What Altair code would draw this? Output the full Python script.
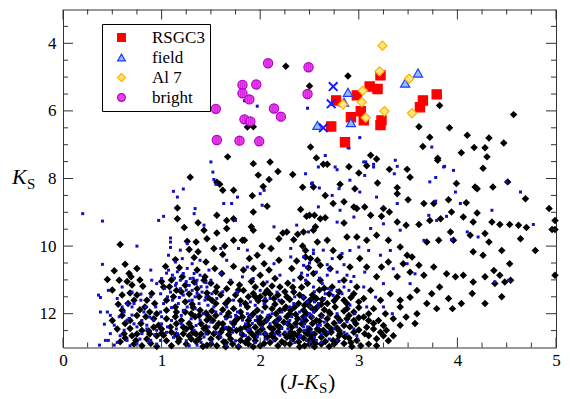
import altair as alt
import pandas as pd

# ---------------- data ----------------
BLACK_STARS = [
    [2.26,4.68],[2.50,5.26],[2.89,4.97],[1.87,6.48],[1.93,6.47],[2.51,7.07],[2.57,7.39],[1.67,7.36],
    [3.61,6.47],[3.72,6.78],[3.65,7.05],[3.80,7.40],[3.12,7.31],[3.18,7.42],[3.82,5.84],[4.57,6.11],
    [3.92,6.50],[4.10,6.72],[4.32,6.80],[4.04,7.24],[4.17,7.08],[4.28,7.09],[4.47,6.95],[4.30,7.36],
    [3.80,7.46],[3.08,7.62],[2.90,7.65],[3.31,7.73],[3.49,7.73],[4.26,7.70],[2.64,7.58],[2.68,7.58],
    [1.93,7.56],[2.10,7.51],[2.18,7.79],[1.98,7.90],[2.09,8.03],[2.33,7.88],[2.43,8.26],[2.03,8.24],
    [1.92,8.51],[1.73,8.35],[1.62,8.35],[1.56,8.11],[1.59,8.17],[1.29,7.96],[2.66,8.50],[3.52,7.96],
    [3.00,7.84],[3.19,8.13],[3.39,8.27],[2.81,8.17],[2.96,8.30],[4.18,8.25],[4.20,8.30],[4.36,8.25],
    [4.51,8.10],[4.69,8.60],[3.99,8.15],[3.91,8.63],[4.09,8.72],[3.76,8.74],[3.66,8.74],[3.50,8.63],
    [3.39,8.45],[3.25,8.89],[3.31,8.99],[3.12,9.09],[3.06,8.84],[2.95,8.84],[2.98,8.89],[2.85,8.69],
    [2.54,8.25],[2.74,8.74],[2.61,9.19],[2.66,9.16],[2.50,9.09],[2.85,9.32],[3.23,9.12],[3.39,9.29],
    [3.48,9.38],[3.61,9.36],[3.72,9.24],[3.83,9.19],[3.94,8.99],[4.06,9.14],[4.16,9.29],[4.20,9.02],
    [4.35,9.29],[4.43,9.36],[4.53,9.36],[4.62,9.38],[4.70,9.45],[4.64,9.78],[4.93,8.89],[4.99,9.24],
    [4.96,9.51],[4.99,9.51],[4.79,10.13],[4.99,10.86],
    [1.16,8.87],[1.16,9.19],[1.37,9.31],[1.56,9.09],[1.66,9.24],[1.73,9.19],[2.41,8.92],[2.47,9.12],
    [2.55,9.09],[2.07,8.82],[1.93,8.99],[0.58,9.95],[1.23,9.45],[1.43,9.53],[1.46,9.78],[1.35,9.88],
    [1.26,9.86],[1.56,9.61],[1.66,9.48],[1.73,9.83],[1.82,9.83],[1.84,9.83],[1.91,9.43],[1.93,9.53],
    [2.02,10.00],[2.11,10.07],[2.19,9.78],[2.23,9.61],[2.27,9.58],[2.34,9.81],[2.38,9.65],[2.43,10.00],
    [2.54,9.53],[2.58,9.88],[1.97,10.27],[1.64,10.00],[1.53,10.07],[1.62,10.25],
    [0.63,10.54],[0.52,10.73],[0.67,10.81],[0.75,10.66],[0.69,10.91],[0.57,11.01],[0.45,10.99],
    [1.28,10.10],[1.37,10.17],[1.33,10.34],[1.14,10.40],[1.04,10.60],[1.18,10.64],[1.45,10.47],
    [1.54,10.66],[1.36,10.71],[1.44,10.91],[1.61,10.81],[1.73,10.60],[1.83,10.71],[1.89,10.37],
    [1.93,10.66],[2.04,10.52],[2.09,10.71],[2.19,10.42],[2.32,10.66],[2.37,10.44],[2.46,10.32],
    [2.49,10.64],[2.54,10.81],[2.58,10.42],[2.41,10.93],[2.15,10.96],[2.00,10.86],[1.21,10.91],
    [0.81,11.19],[0.60,11.45],[0.68,11.39],[0.72,11.60],[0.56,11.72],[0.60,11.90],[0.83,11.80],
    [0.93,11.70],[1.02,11.21],[1.12,11.50],[1.15,11.31],[1.24,11.16],[1.33,11.06],[1.36,11.26],
    [1.38,11.50],[1.43,11.01],[1.46,11.39],[1.51,11.60],[1.56,11.21],[1.60,11.45],[1.66,11.26],
    [1.68,11.60],[1.73,11.85],[1.83,11.31],[1.88,11.50],[1.95,11.21],[2.00,11.50],[2.07,11.31],
    [2.14,11.55],[2.20,11.21],[2.27,11.50],[2.34,11.36],[2.39,11.70],[2.48,11.11],[2.53,11.45],
    [2.58,11.80],[1.14,11.80],[1.24,11.95],[1.31,11.72],[1.39,11.90],[1.51,11.92],[1.87,11.80],
    [1.97,11.90],[2.12,11.85],[2.20,11.90],[2.31,11.90],[2.44,11.90],
    [0.60,12.05],[0.63,12.29],[0.62,12.59],[0.68,12.44],[0.79,12.29],[0.84,12.09],[0.87,12.51],
    [0.97,12.34],[1.02,12.64],[1.09,12.39],[1.14,12.09],[1.17,12.83],[1.22,12.59],[1.28,12.29],
    [1.34,12.09],[1.38,12.74],[1.43,12.44],[1.46,12.19],[1.53,12.59],[1.58,12.29],[1.63,12.83],
    [1.66,12.09],[1.70,12.49],[1.77,12.14],[1.80,12.79],[1.85,12.39],[1.90,12.09],[1.93,12.64],
    [2.00,12.29],[2.04,12.88],[2.09,12.09],[2.12,12.59],[2.17,12.34],[2.22,12.83],[2.27,12.09],
    [2.31,12.54],[2.36,12.29],[2.39,12.83],[2.44,12.09],[2.48,12.59],[2.53,12.29],[2.56,12.88],
    [0.58,12.83],[0.74,12.79],[0.89,12.88],[1.46,12.93],[1.93,12.98],
    [2.98,9.73],[3.08,9.83],[3.18,9.68],[3.30,9.83],[3.42,10.03],[3.49,10.27],[3.54,10.32],
    [3.69,9.88],[3.81,9.83],[3.93,9.58],[3.96,9.83],[4.13,9.68],[4.28,9.63],[4.32,9.88],
    [4.16,10.17],[4.26,10.27],[4.45,10.13],[4.53,10.52],[4.37,10.72],[4.43,10.86],[4.48,11.06],
    [4.54,11.01],[4.38,11.11],[4.28,10.91],[4.16,11.06],[4.06,10.86],[3.98,10.91],[3.89,10.82],
    [3.82,11.21],[3.76,10.62],[3.66,10.86],[3.61,10.57],[3.52,10.77],[3.45,10.52],[3.39,10.91],
    [3.30,10.47],[3.23,10.62],[3.18,10.91],[3.08,10.62],[3.01,10.37],[2.91,10.62],[2.81,10.32],
    [2.71,10.67],[2.61,10.57],[2.51,10.37],[2.46,10.13],[2.68,9.83],[2.74,10.13],[2.88,9.73],
    [2.44,9.58],[2.56,9.43],[2.98,11.21],[2.85,11.01],[2.73,11.21],[2.61,11.01],
    [3.59,11.31],[3.74,11.41],[3.91,11.55],[4.04,11.70],[4.28,11.70],[3.69,11.70],[3.52,11.51],
    [3.42,11.60],[3.32,11.41],[3.22,11.60],[3.12,11.31],[3.05,11.55],[2.95,11.41],[2.88,11.70],
    [2.78,11.51],[2.68,11.70],[2.54,11.51],[2.47,11.70],[3.79,11.85],[3.59,12.00],[3.42,11.80],
    [3.27,12.00],[3.15,11.85],[3.05,12.10],[2.95,11.95],[2.81,12.20],[2.71,12.00],[2.57,12.20],
    [2.47,12.00],[3.57,12.29],[3.28,12.49],[3.15,12.29],[3.06,12.59],[2.91,12.39],[2.81,12.59],
    [2.74,12.79],[2.64,12.49],[2.54,12.79],[2.98,12.79],[3.18,12.74],[3.42,12.34],
    [1.50,11.10],[1.70,11.08],[1.79,11.15],[1.91,11.05],[2.03,11.12],[2.12,11.18],[2.28,11.10],
    [2.42,11.22],[2.60,11.30],[2.33,11.22],
    [1.28,11.42],[1.47,11.52],[1.55,11.70],[1.75,11.45],[1.80,11.62],[1.93,11.40],[2.05,11.62],
    [2.10,11.42],[2.22,11.65],[2.30,11.58],[2.44,11.52],[2.50,11.62],[2.63,11.58],[2.70,11.42],
    [2.85,11.60],[2.92,11.52],
    [1.32,11.82],[1.45,11.98],[1.62,11.88],[1.80,11.95],[1.93,12.00],[2.05,11.80],[2.16,12.00],
    [2.26,11.80],[2.36,12.02],[2.51,11.80],[2.65,11.88],[2.76,11.80],[2.85,11.92],[3.00,11.82],
    [3.10,12.00],
    [1.20,12.20],[1.30,12.40],[1.40,12.30],[1.52,12.20],[1.62,12.45],[1.73,12.30],[1.82,12.10],
    [1.95,12.40],[2.06,12.20],[2.13,12.45],[2.24,12.25],[2.32,12.40],[2.42,12.30],[2.50,12.45],
    [2.60,12.22],[2.68,12.35],[2.78,12.42],[2.88,12.15],[2.97,12.30],[3.08,12.40],[3.20,12.20],
    [3.35,12.15],
    [1.10,12.55],[1.28,12.65],[1.47,12.55],[1.58,12.70],[1.68,12.62],[1.76,12.50],[1.88,12.75],
    [1.98,12.55],[2.07,12.70],[2.18,12.55],[2.27,12.70],[2.35,12.60],[2.44,12.72],[2.55,12.60],
    [2.62,12.70],[2.72,12.55],[2.86,12.68],[2.95,12.55],[3.10,12.65],[3.22,12.55],[3.35,12.65],
    [1.25,12.90],[1.35,12.82],[1.56,12.95],[1.72,12.90],[1.85,12.85],[2.00,12.95],[2.10,12.85],
    [2.18,12.95],[2.30,12.90],[2.45,12.95],[2.62,12.90],[2.70,12.97],[2.85,12.88],[2.93,12.97],
    [3.10,12.90],[1.10,12.95],[0.95,12.97],[0.80,12.95],
    [0.70,11.15],[0.90,11.40],[0.95,12.00],[1.05,11.90],[0.75,12.05],[0.70,12.65],[0.55,12.45],
    [0.95,12.65],[0.85,12.75],[1.05,12.80],[0.50,11.30],[0.65,11.05],[0.78,11.00],[1.00,11.05],
    [1.10,11.00],[1.08,11.20],[1.20,11.35],[0.88,11.95],[0.50,12.20],
    [1.55,11.35],[1.65,11.70],[1.78,11.30],[1.98,11.62],[2.15,11.72],[2.25,11.35],[2.40,11.45],
    [2.57,11.55],[2.65,11.25],[2.80,11.35],[1.38,12.05],[1.55,12.05],[1.68,11.98],[1.88,12.20],
    [2.00,12.12],[2.19,12.15],[2.30,12.00],[2.46,12.20],[2.62,12.05],[2.75,12.28],[2.90,12.05],
    [1.25,12.45],[1.45,12.40],[1.60,12.55],[1.80,12.45],[1.90,12.55],[2.02,12.45],[2.20,12.40],
    [2.40,12.50],[2.58,12.45],[2.67,12.60],[2.80,12.50],[1.35,12.60],[1.50,12.75],[1.70,12.75],
    [1.95,12.80],[2.15,12.75],[2.33,12.75],[2.50,12.78],[2.78,12.80],[2.90,12.72],[1.18,12.75],
    [1.42,12.97],[1.65,12.98],[1.78,12.98],[2.40,12.98],[2.55,12.98],[0.66,11.70],[0.75,11.45],
    [0.85,11.60],[0.78,11.88],[0.92,12.15],[1.00,12.45],[1.15,12.30],[0.72,12.90],[0.63,12.72],
    [1.24,11.65],[1.05,11.60],[3.00,12.12],[3.25,12.35],[3.30,12.80],[3.48,12.10],[4.15,11.40],
    [4.45,11.50],[3.95,11.85],
    [1.85,11.70],[1.95,11.50],[2.05,11.40],[2.18,11.45],[2.25,11.85],[2.35,11.80],[2.45,11.75],
    [2.55,11.90],[2.70,11.95],[2.78,12.10],[2.68,12.15],[2.52,12.10],[2.38,12.15],[2.28,12.30],
    [2.15,12.25],[2.02,12.30],[1.88,12.35],[1.75,12.20],[1.62,12.30],[1.48,12.10],[1.98,12.20],
    [2.10,12.40],[2.25,12.60],[2.38,12.65],[2.52,12.65],[2.66,12.82],[2.80,12.65],[2.92,12.85],
    [3.00,12.48],[2.85,12.35],[2.72,12.45],[2.60,12.50],[2.46,12.55],[2.30,12.65],[2.12,12.65],
    [1.95,12.68],[1.82,12.62],[1.68,12.45],[1.55,12.40],[1.40,12.60],[1.30,12.75],[1.50,12.90],
    [1.65,12.85],[1.88,12.90],[2.05,12.60],[2.25,12.88],[2.50,12.90],[2.75,12.90],[3.02,12.95],
    [3.18,12.95],[3.25,12.65],[3.15,12.45],[2.95,12.20],[3.10,12.20],[2.62,11.72],[2.75,11.62],
    [2.88,11.85],[3.00,11.65],[1.15,11.95],[1.30,12.00],[1.22,12.40],[1.05,12.15],[0.92,12.40],
    [0.80,12.50],[0.68,12.20],[0.75,12.60],[0.88,12.60],[1.00,12.58],[1.15,12.62],[1.32,12.55],
]

BLUE_STARS = [
    [1.84,5.70],[1.97,5.86],[2.48,5.92],[2.66,7.32],[3.01,6.79],[2.90,7.10],[3.74,7.07],[2.89,7.08],
    [3.07,7.51],[3.15,7.58],[3.37,7.46],[3.39,7.64],[3.87,7.64],[2.76,7.66],[1.50,7.51],[1.52,7.81],
    [1.53,8.03],[1.55,8.17],[1.22,8.31],[1.12,8.38],[1.16,8.55],[2.46,7.86],[2.53,8.13],[2.60,8.28],
    [2.04,8.35],[1.77,8.55],[2.78,7.74],[2.80,8.30],
    [0.20,9.04],[0.40,9.26],[0.40,10.54],[0.36,11.45],[0.38,11.52],[0.46,11.31],[0.45,11.95],
    [0.42,12.31],[0.46,12.79],[0.37,12.93],[0.75,10.00],[0.97,9.24],[1.02,9.12],[1.09,9.76],
    [1.09,9.88],[1.07,10.27],[1.34,8.89],[1.33,9.04],[1.43,9.38],[1.63,8.74],[1.71,8.74],[1.75,9.24],
    [1.87,10.12],[2.00,8.45],[2.02,8.79],[2.14,9.43],[2.59,7.66],[2.37,9.38],[2.49,9.58],[2.31,10.07],
    [2.54,10.12],[1.78,10.07],[1.60,10.07],[0.89,10.71],[0.90,11.01],[0.79,11.42],[0.84,11.80],
    [0.67,12.14],[0.87,12.83],[0.99,12.79],[1.16,12.59],
    [1.07,10.71],[1.11,10.86],[1.16,10.76],[1.19,11.01],[1.22,10.81],[1.26,10.66],[1.29,10.96],
    [1.33,10.81],[1.36,11.01],[1.39,10.86],[1.28,11.16],[1.31,11.31],[1.19,11.26],[1.14,11.16],
    [1.09,11.36],[1.22,11.45],[1.34,11.50],[1.41,11.36],[1.46,11.21],[1.50,11.01],[1.51,11.41],
    [1.44,11.60],[1.38,11.70],[1.31,11.60],[1.26,11.80],[1.17,11.70],[1.11,11.60],[1.06,11.50],
    [1.02,11.70],[0.99,11.41],[0.95,11.11],[1.00,10.96],[1.14,10.47],[1.21,10.37],[1.31,10.52],
    [1.39,10.42],[1.48,10.71],[1.19,10.12],[1.09,10.04],[1.26,9.93],
    [0.57,12.09],[0.65,12.19],[0.70,12.04],[0.75,12.39],[0.62,12.49],[0.80,12.59],[0.85,12.34],
    [0.92,12.19],[0.95,12.49],[1.00,12.09],[1.06,12.39],[0.89,12.79],[0.75,12.88],[0.65,12.79],
    [0.52,12.93],[0.43,12.79],[0.48,12.59],[0.52,12.34],[0.82,11.95],[0.99,11.95],[0.70,11.80],
    [0.79,11.60],[0.89,11.50],[0.94,11.80],[0.38,11.95],[0.65,11.70],[0.70,11.36],[0.60,11.21],
    [1.53,11.80],[1.60,12.00],[1.66,11.80],[1.70,12.09],[1.77,11.95],[1.82,12.19],[1.87,12.00],
    [1.92,12.29],[1.97,12.09],[2.02,12.39],[2.07,12.19],[2.12,12.00],[2.17,12.24],[2.22,12.44],
    [2.27,12.29],[2.32,12.09],[2.37,12.39],[2.42,12.19],[2.48,12.39],[2.53,12.09],[2.58,12.34],
    [1.73,12.39],[1.80,12.59],[1.87,12.49],[1.97,12.69],[2.05,12.59],[2.14,12.79],[2.20,12.64],
    [2.31,12.79],[2.41,12.64],[2.51,12.83],[1.60,12.69],[1.66,12.93],[1.51,12.83],[1.43,12.69],
    [1.36,12.93],[1.33,12.49],[1.39,12.19],[1.48,12.39],[1.56,11.55],[1.73,11.60],[1.90,11.65],
    [2.04,11.70],[2.19,11.60],[2.34,11.70],[2.48,11.65],[2.59,11.80],
    [1.60,10.81],[1.70,11.01],[1.82,10.91],[1.93,10.96],[2.07,11.06],[2.20,10.86],[2.34,11.01],
    [2.48,10.86],[1.66,10.42],[1.87,10.62],[2.14,10.52],[2.31,10.32],[2.44,10.57],[2.00,11.31],
    [2.17,11.36],[1.77,11.36],
    [2.52,8.15],[3.05,7.51],[3.06,7.91],[3.15,7.66],[3.36,7.86],[3.86,7.66],[3.96,7.76],[3.78,7.97],
    [3.72,8.10],[3.98,8.40],[3.78,8.67],[4.50,8.10],[4.64,8.40],[4.35,8.94],[4.03,8.74],[3.71,9.09],
    [3.79,9.24],[3.89,9.12],[3.66,9.83],[3.94,9.81],[4.10,9.58],[4.21,9.73],[4.77,9.36],[4.38,11.06],
    [4.52,11.01],[2.73,8.50],[2.81,8.94],[2.78,9.29],[2.91,8.05],[3.01,8.40],[3.18,8.55],[3.39,8.74],
    [3.25,9.34],[3.12,9.48],[3.42,9.53],[2.95,9.14],[2.59,8.84],[3.32,10.13],[3.22,10.27],
    [3.10,10.13],[3.00,10.03],[2.91,10.13],[3.49,10.52],[3.57,10.82],[3.06,10.77],[3.35,10.67],
    [2.44,10.32],[2.54,10.22],[2.64,10.12],[2.73,10.37],[2.83,10.22],[2.47,10.62],[2.57,10.77],
    [2.68,10.86],[2.78,10.77],[2.88,10.86],[2.63,11.11],[2.69,11.26],[2.78,11.31],[2.85,11.21],
    [2.66,11.41],[2.74,11.46],[2.83,11.41],[2.90,11.31],[2.54,11.21],[2.46,11.01],[2.44,11.51],
    [2.51,11.80],[2.59,11.70],[2.46,12.10],[2.54,11.95],[2.63,12.10],[2.44,12.39],[2.52,12.54],
    [2.61,12.34],[2.69,12.54],[2.47,12.79],[2.57,12.79],[2.78,12.00],[2.88,12.24],[2.96,12.00],
    [3.08,11.80],[3.17,11.51],[3.25,11.80],[3.05,11.21],[2.78,12.79],[3.25,11.11],[3.52,11.11],
    [3.34,12.00],[2.91,11.75],
    [1.13,10.95],[1.25,11.05],[1.35,11.12],[1.45,11.08],[1.18,11.52],[1.28,11.62],[1.36,11.40],
    [1.47,11.75],[1.03,11.25],[1.10,11.82],[1.22,11.90],[1.34,11.85],[1.42,12.00],[1.20,12.05],
    [1.30,12.15],[1.10,12.20],[1.00,12.30],[0.93,12.62],[1.12,12.70],[1.25,12.80],[1.40,12.85],
    [1.55,12.55],[1.65,12.40],[1.75,12.80],[1.85,12.65],[1.95,12.85],[2.05,12.75],[2.25,12.55],
    [2.35,12.85],[2.45,12.50],[2.55,12.70],[2.62,12.60],[2.70,12.75],[2.75,12.45],[2.85,12.55],
    [2.95,12.45],[1.65,12.15],[1.85,12.30],[2.10,12.30],[2.30,12.20],[2.40,11.95],[2.22,11.95],
    [2.02,11.95],[1.80,11.75],[2.65,11.55],[2.72,11.30],[2.55,11.35],[2.80,11.05],[2.60,10.95],
    [2.70,10.70],[2.50,10.50],[2.85,10.55],[2.95,10.90],[2.42,10.80],[0.55,11.55],[0.62,11.95],
    [0.72,12.30],[0.58,12.65],[0.78,12.75],[0.68,12.95],[0.88,12.10],[0.48,12.05],
    [1.05,10.80],[1.15,11.10],[1.25,11.30],[1.40,11.20],[1.32,10.95],[1.45,11.50],[1.55,11.95],
    [1.70,12.25],[1.90,12.10],[2.08,12.05],[2.28,12.45],[2.45,12.30],[2.62,12.85],[2.88,12.60],
    [2.00,12.60],[1.78,12.95],[1.50,12.25],[1.15,12.45],[0.95,12.90],[0.80,12.20],[0.72,11.70],
    [0.60,11.80],[0.55,12.85],[2.35,11.50],[2.55,11.65],[2.10,11.55],[1.95,11.75],[1.62,11.35],
    [2.68,10.55],[2.92,11.05],
    [1.20,12.30],[1.35,12.35],[1.05,12.55],[0.85,12.45],[1.58,12.60],[1.72,12.55],[1.90,12.45],
    [2.15,12.60],[2.40,12.70],[2.65,12.25],[2.80,12.25],[2.98,12.65],[2.20,12.10],[1.95,12.20],
    [1.75,12.05],[1.45,12.60],[1.28,12.95],[2.50,12.00],[2.30,11.80],[2.05,11.55],
]

RSGC3 = [[3.22,4.95],[3.11,5.28],[3.19,5.35],[2.98,5.54],[2.77,5.69],[3.02,6.01],[2.92,6.19],
         [3.05,6.28],[3.23,6.28],[3.22,6.42],[2.72,6.46],[2.86,6.93],[3.65,5.69],[3.62,5.89],
         [3.79,5.51]]
FIELD = [[3.60,4.88],[3.47,5.18],[2.89,5.45],[2.85,5.74],[2.92,6.35],[2.58,6.43]]
AL7 = [[3.24,4.07],[3.21,4.83],[3.51,5.05],[3.04,5.40],[2.84,5.81],[3.03,5.74],[3.26,6.01],
       [3.07,6.20],[3.54,6.07]]
BRIGHT = [[2.08,4.59],[2.49,4.71],[1.82,5.23],[1.96,5.22],[1.82,5.48],[1.89,5.66],[2.48,5.50],
          [1.55,5.94],[2.14,5.93],[2.21,6.17],[1.84,6.25],[1.90,6.31],[1.56,6.86],[1.79,6.88],
          [1.99,6.90]]
CROSSES = [[2.74,5.28],[2.72,5.79],[2.64,6.50]]

GROUPS = ["RSGC3", "field", "Al 7", "bright"]
X_MAJOR = [0, 1, 2, 3, 4, 5]
X_MINOR = [0.25, 0.5, 0.75, 1.25, 1.5, 1.75, 2.25, 2.5, 2.75, 3.25, 3.5, 3.75, 4.25, 4.5, 4.75]
Y_MAJOR = [4, 6, 8, 10, 12]
Y_MINOR = [3.5, 4.5, 5, 5.5, 6.5, 7, 7.5, 8.5, 9, 9.5, 10.5, 11, 11.5, 12.5]

# ---------------- layout / style ----------------
W, H = 493, 338
FRAME = "#333333"
FONT = "Liberation Serif"

xs = alt.Scale(domain=[0, 5], nice=False, zero=False)
ys = alt.Scale(domain=[3, 13], nice=False, zero=False, reverse=True)
xaxis = alt.Axis(values=X_MAJOR, title=None, ticks=False, tickSize=0, domain=False, grid=False,
                 labelFont=FONT, labelFontSize=17, labelColor="black", labelPadding=5,
                 labelFlush=False)
yaxis = alt.Axis(values=Y_MAJOR, title=None, ticks=False, tickSize=0, domain=False, grid=False,
                 labelFont=FONT, labelFontSize=17, labelColor="black", labelPadding=7)
X = alt.X("x:Q", scale=xs, axis=xaxis)
Y = alt.Y("y:Q", scale=ys, axis=yaxis)


def pts(rows):
    return pd.DataFrame(rows, columns=["x", "y"])


black = alt.Chart(pts(BLACK_STARS)).mark_point(
    shape="diamond", filled=True, color="black", size=56, opacity=1).encode(x=X, y=Y)
blue = alt.Chart(pts(BLUE_STARS)).mark_point(
    shape="square", filled=True, color="#1010c8", size=9, opacity=1).encode(x=X, y=Y)

hl_rows = []
for name, rows in zip(GROUPS, [RSGC3, FIELD, AL7, BRIGHT]):
    for a, b in rows:
        hl_rows.append({"x": a, "y": b, "group": name, "order": len(hl_rows)})
hl = pd.DataFrame(hl_rows)

legend = alt.Legend(title=None, orient="none", legendX=39, legendY=14.5, strokeColor="black",
                    fillColor="white", padding=5, labelFont=FONT, labelFontSize=17,
                    labelColor="black", symbolSize=60, rowPadding=2, labelOffset=22,
                    symbolOffset=6, symbolStrokeWidth=1.2, cornerRadius=0, labelLimit=200)
shape_scale = alt.Scale(domain=GROUPS, range=["square", "triangle-up", "diamond", "circle"])
fill_scale = alt.Scale(domain=GROUPS, range=["#ff0000", "#8fc1ff", "#ffe680", "#ee44ee"])
stroke_scale = alt.Scale(domain=GROUPS, range=["#ff0000", "#1a3cff", "#ffb000", "#b000c8"])

special = alt.Chart(hl).mark_point(filled=True, size=85, strokeWidth=1.2, opacity=1).encode(
    x=X, y=Y,
    shape=alt.Shape("group:N", scale=shape_scale, legend=legend, sort=GROUPS),
    fill=alt.Fill("group:N", scale=fill_scale, legend=legend, sort=GROUPS),
    stroke=alt.Stroke("group:N", scale=stroke_scale, legend=legend, sort=GROUPS),
    order=alt.Order("order:Q"),
)

hatch = alt.Chart(pts(BRIGHT)).mark_point(
    shape="M-0.4,-0.9L-0.4,0.9M0,-1L0,1M0.4,-0.9L0.4,0.9", filled=False, stroke="#b000c8",
    strokeWidth=0.6, size=85, opacity=0.8).encode(x=X, y=Y)

crosses = alt.Chart(pts(CROSSES)).mark_point(
    shape="M-1,-1L1,1M-1,1L1,-1", filled=False, stroke="#1a1aff", strokeWidth=2,
    size=75, opacity=1).encode(x=X, y=Y)


def xticks(vals, length):
    d = pd.DataFrame({"x": vals})
    bot = alt.Chart(d).mark_rule(color=FRAME, strokeWidth=1).encode(
        x=X, y=alt.value(H), y2=alt.value(H - length))
    top = alt.Chart(d).mark_rule(color=FRAME, strokeWidth=1).encode(
        x=X, y=alt.value(0), y2=alt.value(length))
    return [bot, top]


def yticks(vals, length):
    d = pd.DataFrame({"y": vals})
    left = alt.Chart(d).mark_rule(color=FRAME, strokeWidth=1).encode(
        y=Y, x=alt.value(0), x2=alt.value(length))
    right = alt.Chart(d).mark_rule(color=FRAME, strokeWidth=1).encode(
        y=Y, x=alt.value(W), x2=alt.value(W - length))
    return [left, right]


one = pd.DataFrame({"k": [0]})


def txt(s, x, y, size, italic=False):
    props = dict(text=s, font=FONT, fontSize=size, align="left", baseline="alphabetic",
                 color="black")
    if italic:
        props["fontStyle"] = "italic"
    return alt.Chart(one).mark_text(**props).encode(x=alt.value(x), y=alt.value(y))


# x title "(J-K_S)"
xt_y = 379
titles = [
    txt("(", 217, xt_y, 22),
    txt("J", 224.5, xt_y, 22, italic=True),
    txt("-", 234, xt_y, 22),
    txt("K", 241, xt_y, 22, italic=True),
    txt("S", 256, xt_y + 4, 15),
    txt(")", 265, xt_y, 22),
    # y title "K_S"
    txt("K", -51, 174, 22, italic=True),
    txt("S", -36, 179, 15),
]

layers = ([black, blue, special, hatch, crosses]
          + xticks(X_MAJOR, 10) + xticks(X_MINOR, 5)
          + yticks(Y_MAJOR, 10) + yticks(Y_MINOR, 5)
          + titles)

chart = alt.layer(*layers).properties(
    width=W, height=H,
    autosize="none",
    padding={"left": 55, "top": 1.5, "right": 6, "bottom": 50},
    background="white",
).configure(
    font=FONT,
    view=alt.ViewConfig(stroke=FRAME, strokeWidth=1),
)

chart.save("out.html", embed_options={"renderer": "svg", "actions": False})
